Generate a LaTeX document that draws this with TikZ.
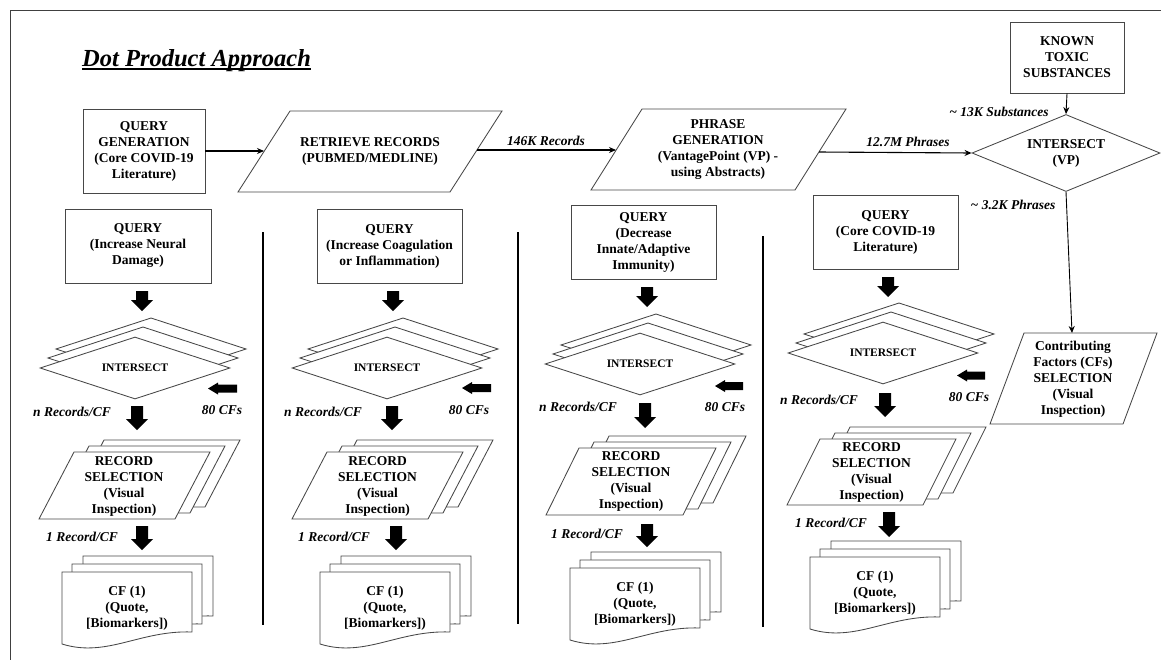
\documentclass[tikz,border=0pt]{standalone}
\usepackage{fontspec}
\setmainfont{Liberation Serif}
\usetikzlibrary{shapes.geometric,arrows.meta}
% parallelogram: x bottom-left, y bottom, x top-left, y top, width
\newcommand\mypgram[5]{\draw[shp] (#1,#2) -- ({#1+#5},#2) -- ({#3+#5},#4) -- (#3,#4) -- cycle;}
% stack of three parallelograms
\newcommand\myrstack[5]{%
  \begin{scope}[shift={(30,-12)}]\mypgram{#1}{#2}{#3}{#4}{#5}\end{scope}
  \begin{scope}[shift={(15,-6)}]\mypgram{#1}{#2}{#3}{#4}{#5}\end{scope}
  \mypgram{#1}{#2}{#3}{#4}{#5}}
% document shape: left, top
\newcommand\mydoc[2]{\draw[shp] (#1,#2) -- ({#1+130},#2) -- ({#1+130},{#2+60})
  .. controls ({#1+78},{#2+58}) and ({#1+45},{#2+86}) .. (#1,{#2+72}) -- cycle;}
\newcommand\mydstack[2]{%
  \begin{scope}[shift={(21,-16)}]\mydoc{#1}{#2}\end{scope}
  \begin{scope}[shift={(10,-8)}]\mydoc{#1}{#2}\end{scope}
  \mydoc{#1}{#2}}
% back diamonds of a stack: cx, cy
\newcommand\mybackdiam[2]{%
  \draw[shp] ({#1+16-95},{#2-19}) -- ({#1+16},{#2-19-31}) -- ({#1+16+95},{#2-19}) -- ({#1+16},{#2-19+31}) -- cycle;
  \draw[shp] ({#1+8-95},{#2-10}) -- ({#1+8},{#2-10-31}) -- ({#1+8+95},{#2-10}) -- ({#1+8},{#2-10+31}) -- cycle;}
% block arrow down: x centre, y top, y tip
\newcommand\mydarr[3]{\fill ({#1-6},#2) -- ({#1+6},#2) -- ({#1+6},{#3-11}) -- ({#1+11},{#3-11})
  -- (#1,#3) -- ({#1-11},{#3-11}) -- ({#1-6},{#3-11}) -- cycle;}
% block arrow left: x tip, x tail, y centre
\newcommand\mylarr[3]{\fill (#1,#3) -- ({#1+10},{#3-6}) -- ({#1+10},{#3-4}) -- (#2,{#3-4})
  -- (#2,{#3+4}) -- ({#1+10},{#3+4}) -- ({#1+10},{#3+6}) -- cycle;}
\begin{document}
\begin{tikzpicture}[x=1pt,y=-1pt,
  shp/.style={draw=black!72,line width=0.85pt,fill=white},
  txt/.style={font=\fontsize{13.5}{16}\selectfont\bfseries,align=center,inner sep=0pt},
  lbl/.style={font=\fontsize{13.5}{16}\selectfont\bfseries\itshape,inner sep=0pt},
  small/.style={font=\fontsize{11.5}{14}\selectfont\bfseries,inner sep=0pt},
  conn/.style={line width=1.1pt,-{Stealth[length=7pt,width=6pt]}},
  thin/.style={line width=0.9pt,-{Stealth[length=7pt,width=6pt]}},
  sep/.style={line width=1.3pt},
  box/.style={shp,txt,rectangle},
  dia/.style={shp,diamond,shape aspect=3,inner sep=0pt},
]
\useasboundingbox (0,0) rectangle (1161,659);
\draw[black!75,line width=1pt] (10,662) -- (10,10) -- (1164,10);

% title
\node[font=\fontsize{24.5}{28}\selectfont\bfseries\itshape,inner sep=0pt,anchor=base west] (title) at (82,66) {Dot Product Approach};
\draw[line width=1.5pt] ([yshift=-3pt]title.base west) -- ([yshift=-3pt]title.base east);

% top row
\node[box,minimum width=122pt,minimum height=84pt] (qg) at (144,151) {QUERY\\GENERATION\\(Core COVID-19\\Literature)};
\mypgram{238}{192}{290}{111}{212}
\node[txt] (rr) at (370,151) {RETRIEVE RECORDS\\(PUBMED/MEDLINE)};
\mypgram{591}{190}{642}{109}{204}
\node[txt] (pg) at (718,150) {PHRASE\\GENERATION\\(VantagePoint (VP) -\\using Abstracts)};
\node[box,minimum width=114pt,minimum height=71pt] (kt) at (1067,57.5) {KNOWN\\TOXIC\\SUBSTANCES};
\node[dia,txt,minimum width=188pt,minimum height=77pt] (iv) at (1066,153) {INTERSECT\\(VP)};
\mypgram{990}{424}{1024}{333}{133}
\node[txt] (cf) at (1073,379) {Contributing\\Factors (CFs)\\SELECTION\\(Visual\\Inspection)};

\coordinate (rr-w) at (264,151);
\coordinate (rr-e) at (477,150);
\coordinate (pg-w) at (616,150);
\coordinate (pg-e) at (819,152);
\coordinate (cf-n) at (1072,333);
\draw[conn] (qg.east) -- (rr-w);
\draw[conn] (rr-e) -- (pg-w);
\draw[conn] (pg-e) -- (iv.west);
\draw[thin] (kt.south) -- (iv.north);
\draw[thin] (iv.south) -- (cf-n);

\node[lbl] (l146) at (546,141) {146K Records};
\node[lbl] (l127) at (908,142) {12.7M Phrases};
\node[lbl] (l13) at (999,112) {\textasciitilde{} 13K Substances};
\node[lbl] (l32) at (1013,205) {\textasciitilde{} 3.2K Phrases};

% separators
\draw[sep] (263,232) -- (263,625);
\draw[sep] (518,232) -- (518,624);
\draw[sep] (763,236) -- (763,627);

% column 1
\node[box,minimum width=146pt,minimum height=74pt] (q1) at (138,246) {QUERY\\(Increase Neural\\Damage)};
\mydarr{142}{291}{311}
\mybackdiam{135}{368}
\node[dia,small,minimum width=190pt,minimum height=62pt] (d1) at (135,368) {INTERSECT};
\mylarr{208}{237}{388.5}
\node[lbl] (n1) at (72,412) {n Records/CF};
\node[lbl] (c1) at (222,410) {80 CFs};
\mydarr{137}{406}{430}
\myrstack{39}{519}{74}{452}{136}
\node[txt] (r1) at (124,486) {RECORD\\SELECTION\\(Visual\\Inspection)};
\node[lbl] (o1) at (82,537) {1 Record/CF};
\mydarr{142}{526}{550}
\mydstack{62}{572}
\node[txt] (f1) at (127,608) {CF (1)\\(Quote,\\{[Biomarkers])}};

% column 2
\node[box,minimum width=145pt,minimum height=74pt] (q2) at (389.5,246) {QUERY\\(Increase Coagulation\\or Inflammation)};
\mydarr{393}{291}{311}
\mybackdiam{387}{368}
\node[dia,small,minimum width=190pt,minimum height=62pt] (d2) at (387,368) {INTERSECT};
\mylarr{462}{491}{388}
\node[lbl] (n2) at (323,412) {n Records/CF};
\node[lbl] (c2) at (469,410) {80 CFs};
\mydarr{392}{406}{430}
\myrstack{292}{519}{327}{452}{136}
\node[txt] (r2) at (377.5,486) {RECORD\\SELECTION\\(Visual\\Inspection)};
\node[lbl] (o2) at (334,537) {1 Record/CF};
\mydarr{396}{526}{550}
\mydstack{320}{572}
\node[txt] (f2) at (385,608) {CF (1)\\(Quote,\\{[Biomarkers])}};

% column 3
\node[box,minimum width=145pt,minimum height=74pt] (q3) at (643.5,242) {QUERY\\(Decrease\\Innate/Adaptive\\Immunity)};
\mydarr{647}{287}{307}
\mybackdiam{640}{364}
\node[dia,small,minimum width=190pt,minimum height=62pt] (d3) at (640,364) {INTERSECT};
\mylarr{715}{743}{386}
\node[lbl] (n3) at (578,407) {n Records/CF};
\node[lbl] (c3) at (725,407) {80 CFs};
\mydarr{645}{403}{428}
\myrstack{546}{515}{579}{448}{137}
\node[txt] (r3) at (631,481.5) {RECORD\\SELECTION\\(Visual\\Inspection)};
\node[lbl] (o3) at (587,534) {1 Record/CF};
\mydarr{647}{524}{547}
\mydstack{570}{568}
\node[txt] (f3) at (635,604) {CF (1)\\(Quote,\\{[Biomarkers])}};

% column 4
\node[box,minimum width=145pt,minimum height=74pt] (q4) at (885.5,232) {QUERY\\(Core COVID-19\\Literature)};
\mydarr{888}{277}{297}
\mybackdiam{883}{353}
\node[dia,small,minimum width=190pt,minimum height=62pt] (d4) at (883,353) {INTERSECT};
\mylarr{957}{985}{375.5}
\node[lbl] (n4) at (819,400) {n Records/CF};
\node[lbl] (c4) at (969,397) {80 CFs};
\mydarr{885}{393}{417}
\myrstack{787}{505}{820}{439}{136}
\node[txt] (r4) at (871.5,472) {RECORD\\SELECTION\\(Visual\\Inspection)};
\node[lbl] (o4) at (831,523) {1 Record/CF};
\mydarr{889}{512}{537}
\mydstack{810}{557}
\node[txt] (f4) at (875,593) {CF (1)\\(Quote,\\{[Biomarkers])}};
\end{tikzpicture}
\end{document}
